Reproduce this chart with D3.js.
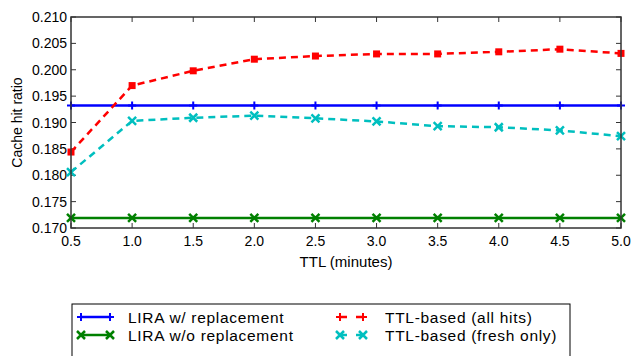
<!DOCTYPE html>
<html><head><meta charset="utf-8">
<script src="https://cdn.jsdelivr.net/npm/d3@7"></script>
<style>
body{margin:0;background:#fff;}
text{font-family:"Liberation Sans",Arial,sans-serif;fill:#000;}
</style></head>
<body><svg id="c" width="641" height="356"></svg>
<script>
const ttl = [0.5,1.0,1.5,2.0,2.5,3.0,3.5,4.0,4.5,5.0];
const liraWith = [0.1932,0.1932,0.1932,0.1932,0.1932,0.1932,0.1932,0.1932,0.1932,0.1932];
const liraWithout = [0.1719,0.1719,0.1719,0.1719,0.1719,0.1719,0.1719,0.1719,0.1719,0.1719];
const ttlAll = [0.1844,0.1970,0.1998,0.2020,0.2026,0.2030,0.2030,0.2034,0.2039,0.2031];
const ttlFresh = [0.1806,0.1903,0.1909,0.1913,0.1908,0.1902,0.1893,0.1891,0.1885,0.1874];
const xTicks = [0.5,1.0,1.5,2.0,2.5,3.0,3.5,4.0,4.5,5.0];
const yTicks = [0.170,0.175,0.180,0.185,0.190,0.195,0.200,0.205,0.210];
const series = [
  {name:"LIRA w/ replacement", values:liraWith, color:"#0000ff", dash:null, marker:"plus"},
  {name:"LIRA w/o replacement", values:liraWithout, color:"#008000", dash:null, marker:"x"},
  {name:"TTL-based (all hits)", values:ttlAll, color:"#ff0000", dash:"7,5", marker:"plusBold"},
  {name:"TTL-based (fresh only)", values:ttlFresh, color:"#00bfbf", dash:"7,5", marker:"x"}
];

const svg = d3.select("#c");
const L=71, R=621, T=17, B=228;
const x = d3.scaleLinear().domain([0.5,5.0]).range([L,R]);
const y = d3.scaleLinear().domain([0.170,0.210]).range([B,T]);
const axisColor="#333";

const g = svg.append("g");
xTicks.forEach(t=>{
  g.append("line").attr("x1",x(t)).attr("x2",x(t)).attr("y1",B).attr("y2",B-5).attr("stroke",axisColor).attr("stroke-width",1);
  g.append("line").attr("x1",x(t)).attr("x2",x(t)).attr("y1",T).attr("y2",T+5).attr("stroke",axisColor).attr("stroke-width",1);
  g.append("text").attr("x",x(t)).attr("y",B+18).attr("text-anchor","middle").attr("font-size",14).text(t.toFixed(1));
});
yTicks.forEach(t=>{
  g.append("line").attr("x1",L).attr("x2",L+5).attr("y1",y(t)).attr("y2",y(t)).attr("stroke",axisColor).attr("stroke-width",1);
  g.append("line").attr("x1",R).attr("x2",R-5).attr("y1",y(t)).attr("y2",y(t)).attr("stroke",axisColor).attr("stroke-width",1);
  g.append("text").attr("x",L-4).attr("y",y(t)+5).attr("text-anchor","end").attr("font-size",14).text(t.toFixed(3));
});

const line = d3.line().x((d,i)=>x(ttl[i])).y(d=>y(d));
function marker(sel, type, cx, cy, color){
  if(type==="plus"){
    sel.append("path").attr("d",`M${cx-4},${cy}H${cx+4}M${cx},${cy-4}V${cy+4}`).attr("stroke",color).attr("stroke-width",2);
  } else if(type==="plusBold"){
    sel.append("rect").attr("x",cx-3.5).attr("y",cy-3.5).attr("width",7).attr("height",7).attr("fill",color);
  } else {
    sel.append("path").attr("d",`M${cx-4},${cy-4}L${cx+4},${cy+4}M${cx-4},${cy+4}L${cx+4},${cy-4}`).attr("stroke",color).attr("stroke-width",2.5);
  }
}
const plot = svg.append("g");
series.forEach(s=>{
  plot.append("path").datum(s.values).attr("d",line).attr("fill","none")
    .attr("stroke",s.color).attr("stroke-width",2.5).attr("stroke-dasharray",s.dash);
  s.values.forEach((v,i)=>marker(plot,s.marker,x(ttl[i]),y(v),s.color));
});

svg.append("rect").attr("x",L).attr("y",T).attr("width",R-L).attr("height",B-T)
  .attr("fill","none").attr("stroke",axisColor).attr("stroke-width",1.5);

svg.append("text").attr("x",(L+R)/2).attr("y",267).attr("text-anchor","middle").attr("font-size",15).text("TTL (minutes)");
svg.append("text").attr("transform",`translate(22,${(T+B)/2}) rotate(-90)`).attr("text-anchor","middle").attr("font-size",14).text("Cache hit ratio");

const lg = svg.append("g");
lg.append("rect").attr("x",72).attr("y",304).attr("width",498).attr("height",70).attr("fill","#fff").attr("stroke","#000").attr("stroke-width",1);
const pos = [[81,317,29,128],[81,335,29,128],[340,317,23,385],[340,335,23,385]];
series.forEach((s,i)=>{
  const [lx,ly,w,tx]=pos[i];
  lg.append("line").attr("x1",lx).attr("x2",lx+w).attr("y1",ly).attr("y2",ly)
    .attr("stroke",s.color).attr("stroke-width",2.5).attr("stroke-dasharray",s.dash?"7,9":null);
  const mt = s.marker==="plusBold"?"plus":s.marker;
  marker(lg,mt,lx,ly,s.color);
  marker(lg,mt,lx+w,ly,s.color);
  lg.append("text").attr("x",tx).attr("y",ly+5.5).attr("font-size",15.5).attr("letter-spacing",0.7).text(s.name);
});
</script></body></html>
